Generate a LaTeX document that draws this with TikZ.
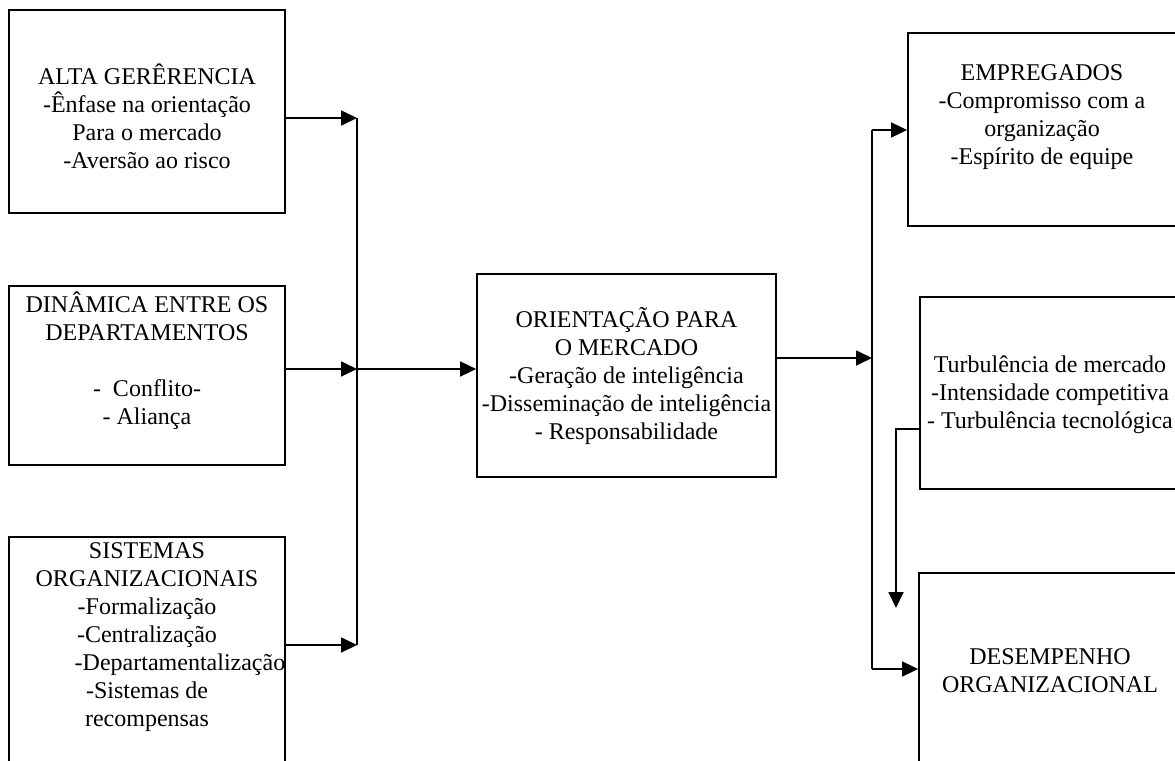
\documentclass[tikz,border=0pt]{standalone}
\usepackage{fontspec}
\setmainfont{Liberation Serif}
\usetikzlibrary{arrows.meta}

\begin{document}
\begin{tikzpicture}[x=0.5pt,y=-0.5pt,
  blk/.style={draw,line width=0.9pt,inner sep=0pt},
  txt/.style={align=center,inner sep=0pt,font=\fontsize{12}{14}\selectfont},
  wire/.style={line width=0.9pt},
  arr/.style={line width=0.9pt,-{Triangle[length=8pt,width=7.5pt]}}]
  \useasboundingbox (0,0) rectangle (1175,761);
  \clip (0,0) rectangle (1175,761);
  % left column
  \node[blk,minimum width=138pt,minimum height=101.5pt] (alta) at (147,111.5) {};
  \node[blk,minimum width=138pt,minimum height=89.5pt] (dina) at (147,375.5) {};
  \node[blk,minimum width=138pt,minimum height=126.5pt] (sist) at (147,663.5) {};
  \node[txt] (altaT) at (147,116) {ALTA GER\^ERENCIA\\-\^Enfase na orienta\c{c}\~ao\\Para o mercado\\-Avers\~ao ao risco};
  \node[txt] (dinaT) at (147,361) {DIN\^AMICA ENTRE OS\\DEPARTAMENTOS\\[14pt]-\ \ Conflito-\\- Alian\c{c}a};
  \node[txt] (sistT) at (147,637) {SISTEMAS\\ORGANIZACIONAIS\\-Formaliza\c{c}\~ao\\-Centraliza\c{c}\~ao\\\hspace*{33pt}-Departamentaliza\c{c}\~ao\\-Sistemas de\\recompensas};
  % centre
  \node[blk,minimum width=149.5pt,minimum height=101.5pt] (orie) at (626.5,375.5) {};
  \node[txt] (orieT) at (626.5,376.5) {ORIENTA\c{C}\~AO PARA\\O MERCADO\\-Gera\c{c}\~ao de intelig\^encia\\-Dissemina\c{c}\~ao de intelig\^encia\\- Responsabilidade};
  % right column
  \node[blk,minimum width=141pt,minimum height=96.5pt] (empr) at (1049,129.5) {};
  \node[blk,minimum width=135pt,minimum height=96pt] (turb) at (1055,393) {};
  \node[blk,minimum width=135.5pt,minimum height=113.5pt] (dese) at (1054.5,686.5) {};
  \node[txt] (emprT) at (1042,117) {EMPREGADOS\\-Compromisso com a\\organiza\c{c}\~ao\\-Esp\'irito de equipe};
  \node[txt] (turbT) at (1050,395) {Turbul\^encia de mercado\\-Intensidade competitiva\\- Turbul\^encia tecnol\'ogica};
  \node[txt] (deseT) at (1050,671) {DESEMPENHO\\ORGANIZACIONAL};
  % connectors
  \coordinate (b1) at (357,118);
  \coordinate (b2) at (357,369);
  \coordinate (b3) at (357,645);
  \draw[arr] (alta.east |- b1) -- (b1);
  \draw[arr] (dina.east |- b2) -- (b2);
  \draw[arr] (sist.east |- b3) -- (b3);
  \draw[wire] (b1) -- (b3);
  \draw[arr] (b2) -- (orie.west |- b2);
  \coordinate (r0) at (872,358);
  \coordinate (r1) at (872,130);
  \coordinate (r3) at (872,669);
  \draw[arr] (orie.east |- r0) -- (r0);
  \draw[wire] (r1) -- (r3);
  \draw[arr] (r1) -- (empr.west |- r1);
  \draw[arr] (r3) -- (dese.west |- r3);
  \coordinate (t1) at (896,429);
  \coordinate (t2) at (896,608);
  \draw[arr] (turb.west |- t1) -- (t1) -- (t2);
\end{tikzpicture}
\end{document}
